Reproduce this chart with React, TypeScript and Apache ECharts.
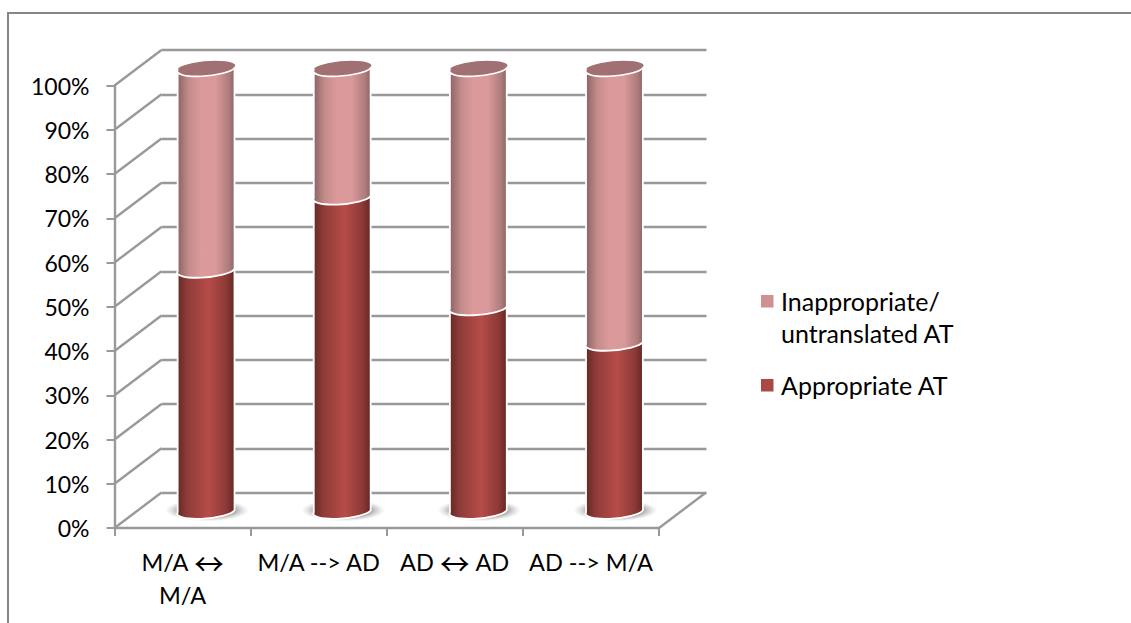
import React, { useEffect, useRef } from "react";
import * as echarts from "echarts";

const categories = ["M/A ↔\nM/A", "M/A --> AD", "AD ↔ AD", "AD --> M/A"];
const appropriate = [54.5, 71, 46, 38];
const inappropriate = [45.5, 29, 54, 62];
const valueTicks = [0, 10, 20, 30, 40, 50, 60, 70, 80, 90, 100];
const appropriateName = "Appropriate AT";
const inappropriateLines = ["Inappropriate/", "untranslated AT"];

const FONT = "Lato";
const AXIS_GREY = "#999999";
const DEPTH_X = 47;
const DEPTH_Y = -35.5;
const RX = 28.5;
const RY = 7;
const TILT_DEG = 4.5;

const darkStops = [
  { offset: 0, color: "#642825" },
  { offset: 0.18, color: "#8f3c39" },
  { offset: 0.55, color: "#b64c49" },
  { offset: 0.85, color: "#8d3a37" },
  { offset: 1, color: "#642825" },
];
const lightStops = [
  { offset: 0, color: "#8a6262" },
  { offset: 0.2, color: "#c48b8b" },
  { offset: 0.42, color: "#dc9a9b" },
  { offset: 0.68, color: "#d99899" },
  { offset: 0.9, color: "#ae7c7c" },
  { offset: 1, color: "#8d6666" },
];

// Ends of the tilted ellipse's long axis around a centre point.
const ends = (cx: number, cy: number) => {
  const t = (TILT_DEG * Math.PI) / 180;
  const dx = RX * Math.cos(t);
  const dy = RX * Math.sin(t);
  return { lx: cx - dx, ly: cy + dy, rx: cx + dx, ry: cy - dy };
};

// One stacked drum of a cylinder, standing halfway into the chart's depth.
const cylinderItem = (stops: typeof darkStops) => (_params: any, api: any) => {
  const idx = api.value(0);
  const lo = api.coord([idx, api.value(1)]);
  const hi = api.coord([idx, api.value(2)]);
  const cx = lo[0] + DEPTH_X / 2;
  const yLo = lo[1] + DEPTH_Y / 2;
  const yHi = hi[1] + DEPTH_Y / 2;
  const b = ends(cx, yLo);
  const t = ends(cx, yHi);
  const arc = `A ${RX} ${RY} ${-TILT_DEG} 0 0`;
  const side = `M ${t.lx} ${t.ly} L ${b.lx} ${b.ly} ${arc} ${b.rx} ${b.ry} L ${t.rx} ${t.ry} Z`;
  const children: any[] = [];
  if (api.value(1) === 0) {
    children.push({
      type: "ellipse",
      shape: { cx: cx + 1, cy: yLo, rx: 42, ry: 11 },
      style: {
        fill: new echarts.graphic.RadialGradient(0.5, 0.5, 0.5, [
          { offset: 0, color: "rgba(130,130,130,0.9)" },
          { offset: 0.62, color: "rgba(135,135,135,0.85)" },
          { offset: 1, color: "rgba(190,190,190,0)" },
        ]),
      },
    });
  }
  children.push({
    type: "path",
    shape: { pathData: side },
    style: {
      fill: new echarts.graphic.LinearGradient(0, 0, 1, 0, stops),
      stroke: "#ffffff",
      lineWidth: 1.8,
    },
  });
  if (api.value(2) === 100) {
    const c = `A ${RX} ${RY} ${-TILT_DEG} 0 0`;
    children.push({
      type: "path",
      shape: { pathData: `M ${t.lx} ${t.ly} ${c} ${t.rx} ${t.ry} ${c} ${t.lx} ${t.ly} Z` },
      style: { fill: "#a17073", stroke: "#ffffff", lineWidth: 1.6 },
    });
  }
  return { type: "group", children };
};

// Receding edges of the left wall and the floor.
const depthLineItem = (params: any, api: any) => {
  const v = api.value(0);
  const y = api.coord([0, v])[1];
  const x = params.coordSys.x;
  const line = (x0: number) => ({
    type: "line",
    shape: { x1: x0, y1: y, x2: x0 + DEPTH_X, y2: y + DEPTH_Y },
    style: { stroke: AXIS_GREY, lineWidth: 2.4 },
  });
  const children = [line(x)];
  if (v === 0) children.push(line(x + params.coordSys.width));
  return { type: "group", children };
};

const legendGraphic = () => {
  const text = (x: number, y: number, t: string) => ({
    type: "text",
    x,
    y,
    style: { text: t, fill: "#000", font: `25px ${FONT}`, textVerticalAlign: "middle" },
  });
  const swatch = (y: number, fill: string) => ({
    type: "rect",
    shape: { x: 761, y, width: 12.5, height: 12.5 },
    style: { fill },
  });
  return [
    swatch(295, "#ce9090"),
    text(781, 301, inappropriateLines[0]),
    text(781, 333, inappropriateLines[1]),
    swatch(379, "#ab4744"),
    text(781, 385, appropriateName),
  ];
};

export default function App() {
  const ref = useRef<HTMLDivElement>(null);
  useEffect(() => {
    document.body.style.margin = "0";
    const chart = echarts.init(ref.current!, undefined, { renderer: "svg" });
    const rows = (lo: number[], hi: number[]) => categories.map((_, i) => [i, lo[i], hi[i]]);
    const appropriateRows = rows(appropriate.map(() => 0), appropriate);
    const inappropriateRows = rows(appropriate, appropriate.map((v, i) => v + inappropriate[i]));
    chart.setOption({
      animation: false,
      backgroundColor: "#ffffff",
      grid: [
        { left: 114.5, top: 85.5, width: 544.5, height: 442.5 },
        { left: 161.5, top: 50, width: 545, height: 442.5 },
      ],
      xAxis: [
        {
          type: "category",
          gridIndex: 0,
          data: categories,
          axisLine: { lineStyle: { color: AXIS_GREY, width: 2.4 } },
          axisTick: { show: true, length: 8, lineStyle: { color: AXIS_GREY, width: 2 } },
          axisLabel: {
            color: "#000",
            fontFamily: FONT,
            fontSize: 23.5,
            margin: 17,
            lineHeight: 33,
            interval: 0,
            formatter: (v: string) => v.replace("↔", "{arrow|↔}"),
            rich: { arrow: { fontFamily: "Noto Sans CJK JP", fontSize: 30, lineHeight: 33, color: "#000" } },
          },
        },
        { type: "category", gridIndex: 1, data: categories, show: false },
      ],
      yAxis: [
        {
          type: "value",
          gridIndex: 0,
          min: 0,
          max: 100,
          interval: 10,
          splitLine: { show: false },
          axisLine: { show: true, lineStyle: { color: AXIS_GREY, width: 2.4 } },
          axisTick: { show: true, length: 8, lineStyle: { color: AXIS_GREY, width: 2 } },
          axisLabel: { color: "#000", fontFamily: FONT, fontSize: 23, margin: 25, formatter: "{value}%" },
        },
        {
          type: "value",
          gridIndex: 1,
          min: 0,
          max: 100,
          interval: 10,
          axisLine: { show: false },
          axisTick: { show: false },
          axisLabel: { show: false },
          splitLine: { show: true, lineStyle: { color: AXIS_GREY, width: 2.4 } },
        },
      ],
      series: [
        {
          type: "custom",
          name: "depth",
          xAxisIndex: 0,
          yAxisIndex: 0,
          silent: true,
          clip: false,
          z: 1,
          data: valueTicks.map((v) => [v]),
          encode: { y: 0 },
          renderItem: depthLineItem,
        },
        {
          type: "custom",
          name: appropriateName,
          xAxisIndex: 0,
          yAxisIndex: 0,
          clip: false,
          z: 3,
          data: appropriateRows,
          encode: { x: 0, y: [1, 2] },
          renderItem: cylinderItem(darkStops),
        },
        {
          type: "custom",
          name: inappropriateLines.join(" "),
          xAxisIndex: 0,
          yAxisIndex: 0,
          clip: false,
          z: 4,
          data: inappropriateRows,
          encode: { x: 0, y: [1, 2] },
          renderItem: cylinderItem(lightStops),
        },
      ],
      graphic: [
        { type: "line", shape: { x1: 8, y1: 13, x2: 1131, y2: 13 }, style: { stroke: "#868686", lineWidth: 2 } },
        { type: "line", shape: { x1: 8, y1: 12, x2: 8, y2: 623 }, style: { stroke: "#868686", lineWidth: 2 } },
        ...legendGraphic(),
      ],
    });
    return () => chart.dispose();
  }, []);
  return <div ref={ref} style={{ width: 1131, height: 623 }} />;
}
